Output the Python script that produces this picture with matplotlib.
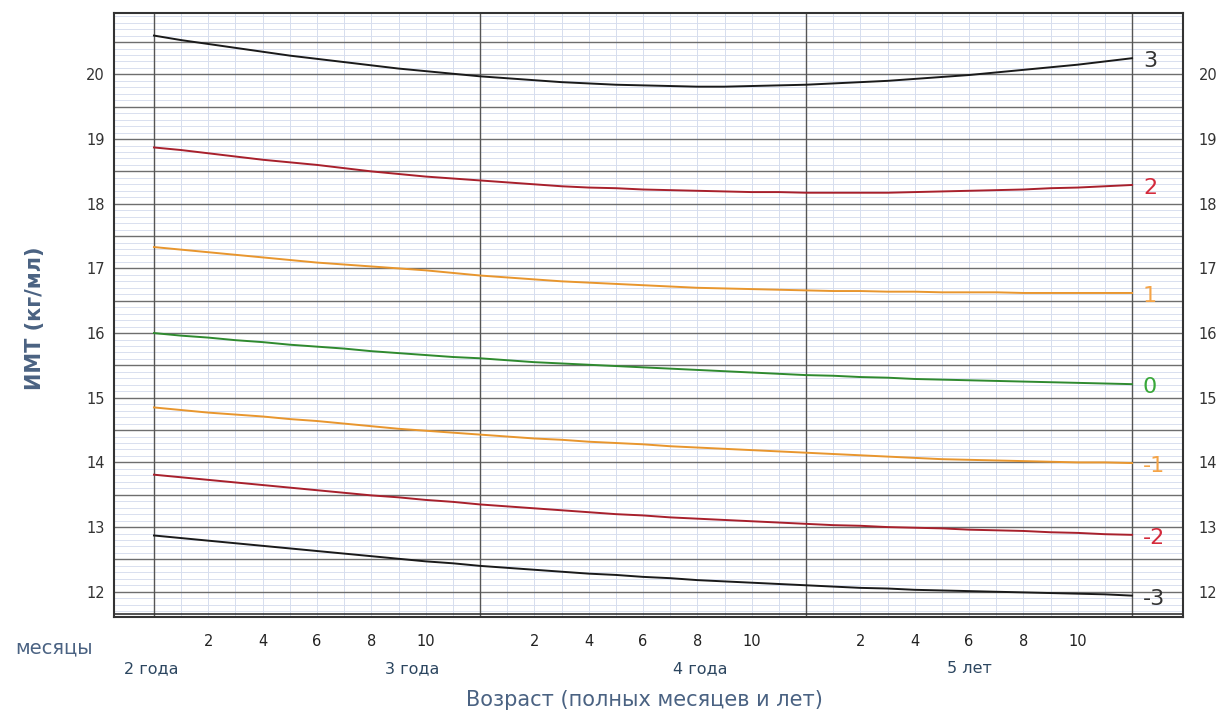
import matplotlib
matplotlib.use("Agg")
import matplotlib.pyplot as plt
import matplotlib.transforms as mtransforms
import numpy as np

plt.rcParams['font.family'] = ['DejaVu Sans']

months = list(range(24, 61))

sd3 = [20.60, 20.53, 20.47, 20.41, 20.35, 20.29, 20.24, 20.19, 20.14, 20.09, 20.05, 20.01,
       19.97, 19.94, 19.91, 19.88, 19.86, 19.84, 19.83, 19.82, 19.81, 19.81, 19.82, 19.83,
       19.84, 19.86, 19.88, 19.90, 19.93, 19.96, 19.99, 20.03, 20.07, 20.11, 20.15, 20.20, 20.25]
sd2 = [18.87, 18.83, 18.78, 18.73, 18.68, 18.64, 18.60, 18.55, 18.50, 18.46, 18.42, 18.39,
       18.36, 18.33, 18.30, 18.27, 18.25, 18.24, 18.22, 18.21, 18.20, 18.19, 18.18, 18.18,
       18.17, 18.17, 18.17, 18.17, 18.18, 18.19, 18.20, 18.21, 18.22, 18.24, 18.25, 18.27, 18.29]
sd1 = [17.33, 17.29, 17.25, 17.21, 17.17, 17.13, 17.09, 17.06, 17.03, 17.00, 16.97, 16.93,
       16.89, 16.86, 16.83, 16.80, 16.78, 16.76, 16.74, 16.72, 16.70, 16.69, 16.68, 16.67,
       16.66, 16.65, 16.65, 16.64, 16.64, 16.63, 16.63, 16.63, 16.62, 16.62, 16.62, 16.62, 16.62]
sd0 = [16.00, 15.96, 15.93, 15.89, 15.86, 15.82, 15.79, 15.76, 15.72, 15.69, 15.66, 15.63,
       15.61, 15.58, 15.55, 15.53, 15.51, 15.49, 15.47, 15.45, 15.43, 15.41, 15.39, 15.37,
       15.35, 15.34, 15.32, 15.31, 15.29, 15.28, 15.27, 15.26, 15.25, 15.24, 15.23, 15.22, 15.21]
sdm1 = [14.85, 14.81, 14.77, 14.74, 14.71, 14.67, 14.64, 14.60, 14.56, 14.52, 14.49, 14.46,
        14.43, 14.40, 14.37, 14.35, 14.32, 14.30, 14.28, 14.25, 14.23, 14.21, 14.19, 14.17,
        14.15, 14.13, 14.11, 14.09, 14.07, 14.05, 14.04, 14.03, 14.02, 14.01, 14.00, 14.00, 13.99]
sdm2 = [13.81, 13.77, 13.73, 13.69, 13.65, 13.61, 13.57, 13.53, 13.49, 13.46, 13.42, 13.39,
        13.35, 13.32, 13.29, 13.26, 13.23, 13.20, 13.18, 13.15, 13.13, 13.11, 13.09, 13.07,
        13.05, 13.03, 13.02, 13.00, 12.99, 12.98, 12.96, 12.95, 12.94, 12.92, 12.91, 12.89, 12.88]
sdm3 = [12.87, 12.83, 12.79, 12.75, 12.71, 12.67, 12.63, 12.59, 12.55, 12.51, 12.47, 12.44,
        12.40, 12.37, 12.34, 12.31, 12.28, 12.26, 12.23, 12.21, 12.18, 12.16, 12.14, 12.12,
        12.10, 12.08, 12.06, 12.05, 12.03, 12.02, 12.01, 12.00, 11.99, 11.98, 11.97, 11.96, 11.94]

curve_labels = ["3", "2", "1", "0", "-1", "-2", "-3"]
y_ticks = [12, 13, 14, 15, 16, 17, 18, 19, 20]
month_tick_labels = ["2", "4", "6", "8", "10"]
year_labels = ["2 года", "3 года", "4 года", "5 лет"]
year_label_pos = [23.9, 33.5, 44.1, 54.0]

series = [sd3, sd2, sd1, sd0, sdm1, sdm2, sdm3]
line_colors = ["#1a1a1a", "#a8202c", "#e8962e", "#2f8a2f", "#e8962e", "#a8202c", "#1a1a1a"]
label_colors = ["#333333", "#d42a3c", "#f5a447", "#3aa83a", "#f5a447", "#d42a3c", "#333333"]

fig = plt.figure(figsize=(12.21, 7.19), dpi=100)
ax = fig.add_axes([0.0934, 0.1419, 0.9690 - 0.0934, 0.982 - 0.1419])

xmin, xmax = 22.53, 61.88
ymin, ymax = 11.61, 20.95
ax.set_xlim(xmin, xmax)
ax.set_ylim(ymin, ymax)

# horizontal grid
minor_c = "#d3dbec"
major_c = "#6e6e6e"
for v in np.arange(11.7, 20.95, 0.1):
    v = round(v, 1)
    if abs(v * 2 - round(v * 2)) < 1e-6:
        ax.axhline(v, color=major_c, lw=1.0, zorder=1)
    else:
        ax.axhline(v, color=minor_c, lw=0.6, zorder=0.5)

# vertical grid
for m in range(24, 61):
    if m % 12 == 0:
        ax.axvline(m, color="#555555", lw=1.0, zorder=1.2)
    else:
        ax.axvline(m, color="#d6ddee", lw=0.7, zorder=0.6)

# curves
for vals, c in zip(series, line_colors):
    ax.plot(months, vals, color=c, lw=1.4, zorder=3)

# curve labels
for vals, lab, c in zip(series, curve_labels, label_colors):
    ax.text(60.4, vals[-1] - 0.05, lab, color=c, fontsize=16, ha='left', va='center', zorder=4)

# double bottom line
ax.axhline(11.655, color="#333333", lw=1.2, zorder=2)

for s in ax.spines.values():
    s.set_color("#333333")
    s.set_linewidth(1.5)

ax.set_yticks(y_ticks)
ax.set_yticklabels([str(t) for t in y_ticks])
ax.tick_params(axis='y', length=0, labelsize=10.5, labelcolor="#333333", pad=6.5)
ax.set_xticks([])

ax2 = ax.twinx()
ax2.set_ylim(ymin, ymax)
ax2.set_yticks(y_ticks)
ax2.set_yticklabels([str(t) for t in y_ticks])
ax2.tick_params(axis='y', length=0, labelsize=10.5, labelcolor="#333333", pad=11)
for s in ax2.spines.values():
    s.set_visible(False)

trans = mtransforms.blended_transform_factory(ax.transData, ax.transAxes)
for year_start in (24, 36, 48):
    for i, lab in enumerate(month_tick_labels):
        m = year_start + 2 * (i + 1)
        ax.text(m, -0.040, lab, transform=trans, ha='center', va='center',
                fontsize=10.5, color="#222222")

for lab, pos in zip(year_labels, year_label_pos):
    ax.text(pos, -0.085, lab, transform=trans, ha='center', va='center',
            fontsize=11.5, color="#2c4660")

fig.text(0.044, 0.0988, "месяцы", ha='center', va='center', fontsize=14, color="#4a6282")
fig.text(0.528, 0.027, "Возраст (полных месяцев и лет)", ha='center', va='center',
         fontsize=15, color="#4a6282")
fig.text(0.0287, 0.5577, "ИМТ (кг/мл)", ha='center', va='center', rotation=90,
         fontsize=15, color="#4a6282", fontweight='bold')

fig.savefig("out.png", dpi=100)
